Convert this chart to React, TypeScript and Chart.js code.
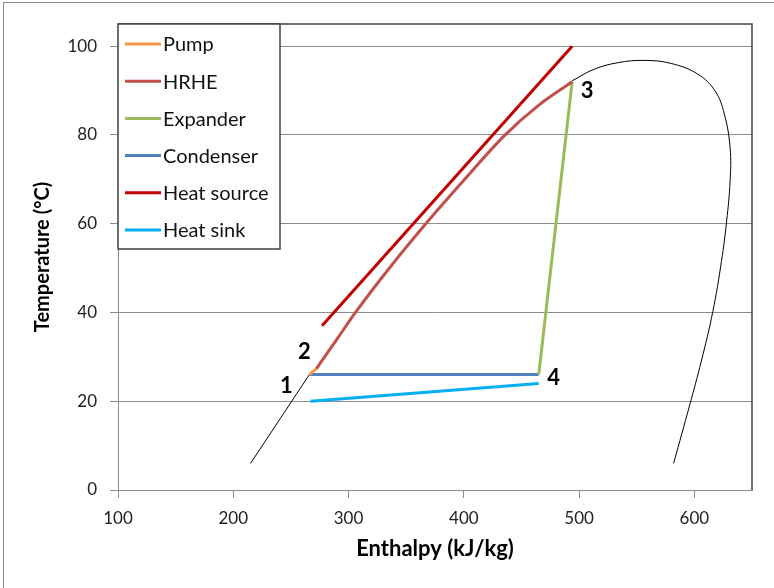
import React, { useEffect, useRef } from "react";
import { Chart, registerables } from "chart.js";

Chart.register(...registerables);

const FONT = "Lato, 'Open Sans', sans-serif";

// Axes
const xTickValues = [100, 200, 300, 400, 500, 600];
const yTickValues = [0, 20, 40, 60, 80, 100];
const xMin = 100;
const xMax = 650;
const yMin = 0;
const yMax = 105;
const xTitle = "Enthalpy (kJ/kg)";
const yTitle = "Temperature (°C)";

// Series (enthalpy kJ/kg, temperature °C)
const seriesNames = ["Pump", "HRHE", "Expander", "Condenser", "Heat source", "Heat sink"];
const seriesColors = ["#F79646", "#C0504D", "#9BBB59", "#4F81BD", "#C00000", "#00B0F0"];

const pumpH = [266, 272];
const pumpT = [26, 27.3];
const hrheH = [272, 290, 306, 336, 367, 400, 435, 464, 494];
const hrheT = [27.3, 34, 40, 50.2, 60, 69.8, 79.8, 86.5, 92];
const expanderH = [494, 465];
const expanderT = [92, 26];
const condenserH = [465, 266];
const condenserT = [26, 26];
const sourceH = [277, 494];
const sourceT = [37, 100];
const sinkH = [267, 465];
const sinkT = [20, 24];

// Saturation dome
const domeLeftH = [215, 266];
const domeLeftT = [6, 26];
const domeRightH = [494, 513, 534, 557, 580, 603, 618, 626, 631, 631, 628, 623.5, 616, 606, 596, 582];
const domeRightT = [92.2, 94.8, 96.3, 96.8, 96.1, 93.7, 89.9, 84.7, 77.1, 69.6, 60.6, 51.5, 40.2, 29, 19.2, 6];

// State point labels
const stateLabels = ["1", "2", "3", "4"];
const stateH = [266, 272, 494, 465];
const stateT = [26, 27.3, 92, 26];
const stateOffsets = [[-23, 11], [-12, -17], [15, 9], [15, 3]];

const pts = (h: number[], t: number[]) => h.map((x, i) => ({ x, y: t[i] }));

export default function App() {
  const ref = useRef<HTMLCanvasElement | null>(null);

  useEffect(() => {
    if (!ref.current) return;
    const seriesData = [
      pts(pumpH, pumpT),
      pts(hrheH, hrheT),
      pts(expanderH, expanderT),
      pts(condenserH, condenserT),
      pts(sourceH, sourceT),
      pts(sinkH, sinkT),
    ];
    const datasets: any[] = seriesData.map((d, i) => ({
      label: seriesNames[i],
      data: d,
      borderColor: seriesColors[i],
      backgroundColor: seriesColors[i],
      borderWidth: 3,
      showLine: true,
      pointRadius: 0,
      cubicInterpolationMode: i === 1 ? "monotone" : "default",
      tension: 0,
      borderCapStyle: "butt",
    }));
    datasets.push({
      label: "domeL",
      data: pts(domeLeftH, domeLeftT),
      borderColor: "#000",
      borderWidth: 1,
      showLine: true,
      pointRadius: 0,
      tension: 0,
    });
    datasets.push({
      label: "domeR",
      data: pts(domeRightH, domeRightT),
      borderColor: "#000",
      borderWidth: 1,
      showLine: true,
      pointRadius: 0,
      tension: 0.4,
    });

    const framePlugin = {
      id: "frame",
      beforeDraw(chart: any) {
        const { ctx, width, height } = chart;
        ctx.save();
        ctx.fillStyle = "#fff";
        ctx.fillRect(0, 0, width, height);
        ctx.strokeStyle = "#8c8c8c";
        ctx.lineWidth = 1;
        ctx.strokeRect(3.5, 2.5, width + 10, height + 10);
        ctx.restore();
      },
      beforeDatasetsDraw(chart: any) {
        const { ctx, chartArea: a } = chart;
        ctx.save();
        ctx.strokeStyle = "#404040";
        ctx.lineWidth = 1.5;
        ctx.beginPath();
        ctx.moveTo(a.left, a.top);
        ctx.lineTo(a.right, a.top);
        ctx.lineTo(a.right, a.bottom);
        ctx.stroke();
        ctx.restore();
      },
      afterDatasetsDraw(chart: any) {
        const { ctx } = chart;
        const xs = chart.scales.x;
        const ys = chart.scales.y;
        ctx.save();
        ctx.fillStyle = "#000";
        ctx.font = `bold 22px ${FONT}`;
        ctx.textAlign = "center";
        ctx.textBaseline = "middle";
        stateLabels.forEach((lab, i) => {
          const px = xs.getPixelForValue(stateH[i]) + stateOffsets[i][0];
          const py = ys.getPixelForValue(stateT[i]) + stateOffsets[i][1];
          ctx.fillText(lab, px, py);
        });
        ctx.restore();
      },
      afterDraw(chart: any) {
        const { ctx, chartArea: a } = chart;
        const boxL = a.left;
        const boxT = a.top;
        const boxW = 162;
        const boxH = 225;
        ctx.save();
        ctx.fillStyle = "#fff";
        ctx.fillRect(boxL, boxT, boxW, boxH);
        ctx.strokeStyle = "#404040";
        ctx.lineWidth = 1.5;
        ctx.strokeRect(boxL, boxT, boxW, boxH);
        ctx.font = `20px ${FONT}`;
        ctx.textBaseline = "middle";
        ctx.textAlign = "left";
        seriesNames.forEach((name, i) => {
          const cy = boxT + 20 + i * 37.2;
          ctx.strokeStyle = seriesColors[i];
          ctx.lineWidth = 3;
          ctx.beginPath();
          ctx.moveTo(boxL + 7, cy);
          ctx.lineTo(boxL + 43, cy);
          ctx.stroke();
          ctx.fillStyle = "#111";
          ctx.fillText(name, boxL + 45, cy + 1);
        });
        ctx.restore();
      },
    };

    const chart = new Chart(ref.current, {
      type: "scatter",
      data: { datasets },
      options: {
        animation: false,
        responsive: false,
        layout: { padding: { left: 0, top: 24, right: 22, bottom: 0 } },
        plugins: {
          legend: { display: false },
          tooltip: { enabled: false },
        },
        scales: {
          x: {
            type: "linear",
            min: xMin,
            max: xMax,
            afterBuildTicks: (s: any) => {
              s.ticks = xTickValues.map((v) => ({ value: v }));
            },
            afterFit: (s: any) => {
              s.height = 98;
            },
            ticks: {
              color: "#222",
              font: { family: FONT, size: 17 },
              padding: 10,
              maxRotation: 0,
              callback: (v: any) => String(v),
            },
            grid: {
              drawOnChartArea: false,
              drawTicks: true,
              tickLength: 8,
              color: "#8c8c8c",
              lineWidth: 1,
            },
            border: { display: true, color: "#8c8c8c", width: 1 },
            title: {
              display: true,
              text: xTitle,
              color: "#000",
              font: { family: FONT, size: 22, weight: "bold" },
              padding: { top: 0, bottom: 26 },
            },
          },
          y: {
            type: "linear",
            min: yMin,
            max: yMax,
            afterBuildTicks: (s: any) => {
              s.ticks = yTickValues.map((v) => ({ value: v }));
            },
            afterFit: (s: any) => {
              s.width = 118;
            },
            ticks: {
              color: "#222",
              font: { family: FONT, size: 17 },
              padding: 13,
              callback: (v: any) => String(v),
            },
            grid: {
              drawOnChartArea: true,
              drawTicks: true,
              tickLength: 8,
              color: "#8c8c8c",
              lineWidth: 1,
            },
            border: { display: true, color: "#8c8c8c", width: 1 },
            title: {
              display: true,
              text: yTitle,
              color: "#000",
              font: { family: FONT, size: 20, weight: "bold" },
              padding: { top: 31, bottom: 0 },
            },
          },
        },
      },
      plugins: [framePlugin],
    } as any);

    return () => chart.destroy();
  }, []);

  return (
    <div style={{ position: "fixed", left: 0, top: 0, width: 774, height: 588 }}>
      <canvas ref={ref} width={774} height={588} style={{ display: "block", width: 774, height: 588 }} />
    </div>
  );
}
